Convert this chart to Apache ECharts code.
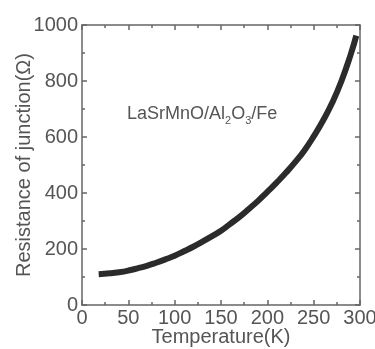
<!DOCTYPE html>
<html><head><meta charset="utf-8">
<script src="https://cdn.jsdelivr.net/npm/echarts@6/dist/echarts.min.js"></script>
<style>html,body{margin:0;padding:0;background:#fff}#c{width:375px;height:349px}</style>
</head><body><div id="c"></div>
<script>
const temperature = [18, 30, 40, 50, 60, 70, 80, 90, 100, 110, 120, 130, 140, 150, 160, 170, 180, 190, 200, 210, 220, 230, 240, 250, 260, 270, 280, 290, 296];
const resistance  = [110, 113, 117, 123, 131, 140, 151, 163, 176, 192, 208, 226, 245, 265, 290, 315, 343, 372, 404, 437, 472, 510, 552, 602, 658, 722, 800, 895, 962];
const xTicks = [0, 50, 100, 150, 200, 250, 300];
const yTicks = [0, 200, 400, 600, 800, 1000];

const txt = '#555';
const axisCol = '#666';
const font = 'Liberation Sans';
const chart = echarts.init(document.getElementById('c'), null, {renderer: 'canvas'});
const baseAxis = {
  axisLine: {show: true, onZero: false, lineStyle: {color: axisCol, width: 1.5}},
  axisTick: {show: true, inside: true, length: 5, lineStyle: {color: axisCol, width: 1.5}},
  minorTick: {show: true, splitNumber: 2, length: 3, lineStyle: {color: axisCol, width: 1.5}},
  splitLine: {show: false}
};
chart.setOption({
  animation: false,
  grid: {left: 82, top: 25, right: 15, bottom: 44, outerBoundsMode: 'none', containLabel: false},
  xAxis: [
    Object.assign({}, baseAxis, {
      type: 'value', min: xTicks[0], max: xTicks[xTicks.length - 1], interval: 50,
      name: 'Temperature(K)', nameLocation: 'middle', nameGap: 22, nameMoveOverlap: false,
      nameTextStyle: {color: txt, fontSize: 20, fontFamily: font},
      axisLabel: {color: txt, fontSize: 20, fontFamily: font, margin: 3}
    }),
    Object.assign({}, baseAxis, {
      type: 'value', position: 'top', min: 0, max: 300, interval: 50,
      axisLabel: {show: false}
    })
  ],
  yAxis: [
    Object.assign({}, baseAxis, {
      type: 'value', min: yTicks[0], max: yTicks[yTicks.length - 1], interval: 200,
      name: 'Resistance of junction(Ω)', nameLocation: 'middle', nameGap: 48, nameMoveOverlap: false,
      nameTextStyle: {color: txt, fontSize: 20, fontFamily: font},
      axisLabel: {color: txt, fontSize: 20, fontFamily: font, margin: 4, formatter: v => String(v)}
    }),
    Object.assign({}, baseAxis, {
      type: 'value', position: 'right', min: 0, max: 1000, interval: 200,
      axisLabel: {show: false}
    })
  ],
  graphic: [{
    type: 'text', left: 127, top: 105,
    style: {
      text: '{n|LaSrMnO/Al}{s|2}{n|O}{s|3}{n|/Fe}',
      rich: {
        n: {fontSize: 18, fontFamily: font, fill: txt, verticalAlign: 'bottom'},
        s: {fontSize: 11, fontFamily: font, fill: txt, verticalAlign: 'bottom', padding: [0, 0, -3, 0]}
      }
    }
  }],
  series: [{
    type: 'line', smooth: true, showSymbol: false,
    data: temperature.map((t, i) => [t, resistance[i]]),
    lineStyle: {color: '#2b2b2b', width: 6}
  }]
});
</script></body></html>
